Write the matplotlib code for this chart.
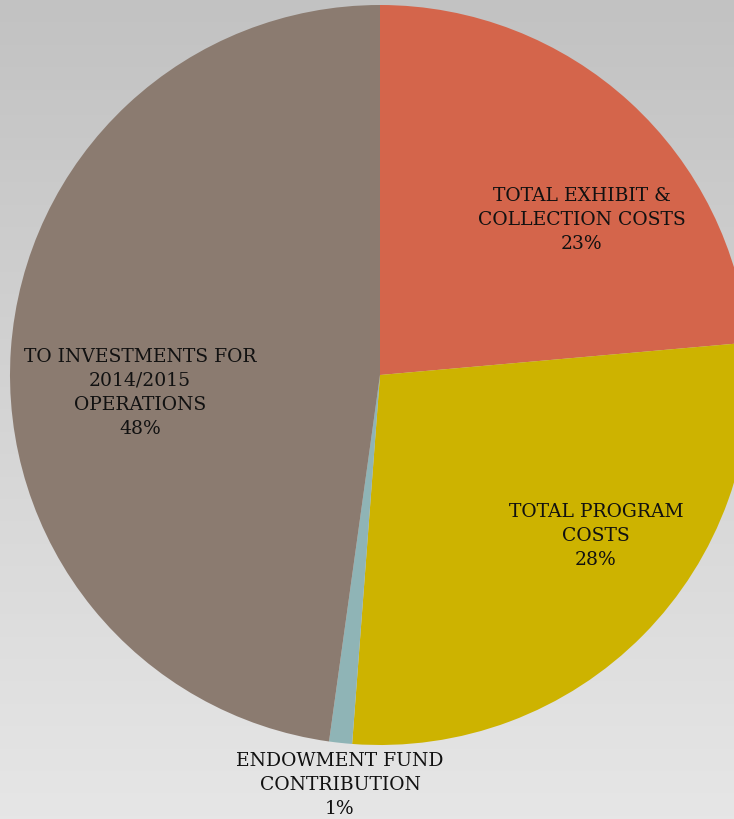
import numpy as np
import matplotlib
matplotlib.use("Agg")
import matplotlib.pyplot as plt

categories = ["TOTAL EXHIBIT &\nCOLLECTION COSTS", "TOTAL PROGRAM\nCOSTS",
              "ENDOWMENT FUND\nCONTRIBUTION", "TO INVESTMENTS FOR\n2014/2015\nOPERATIONS"]
values = [23.6, 27.6, 1.0, 47.8]
pct_labels = ["23%", "28%", "1%", "48%"]
colors = ["#D4654B", "#CDB300", "#8FB4B6", "#8B7B70"]

W, H = 734, 819
fig = plt.figure(figsize=(W / 100, H / 100), dpi=100)
ax = fig.add_axes([0, 0, 1, 1])

# background gradient (darker top, lighter bottom)
grad = np.linspace(0, 1, 256).reshape(-1, 1)
top = np.array([0.761, 0.761, 0.761])
bot = np.array([0.902, 0.902, 0.902])
img = (top + (bot - top) * grad[..., None]).reshape(256, 1, 3)
ax.imshow(img, extent=[0, W, 0, H], origin="upper", aspect="auto", zorder=0)

cx, cy, r = 380, H - 375, 370
wedges, _ = ax.pie(values, colors=colors, startangle=90, counterclock=False,
                   center=(cx, cy), radius=r, frame=True,
                   wedgeprops=dict(linewidth=0))
for w in wedges:
    w.set_zorder(1)
ax.set_xlim(0, W)
ax.set_ylim(0, H)
ax.axis("off")

label_pos = [(582, 220), (596, 536), (340, 785), (140, 393)]
for cat, pct, (x, y) in zip(categories, pct_labels, label_pos):
    ax.text(x, H - y, cat + "\n" + pct, ha="center", va="center",
            family="DejaVu Serif", fontsize=13.5, color="#111111",
            linespacing=1.45, zorder=3)

fig.savefig("out.png", dpi=100)
